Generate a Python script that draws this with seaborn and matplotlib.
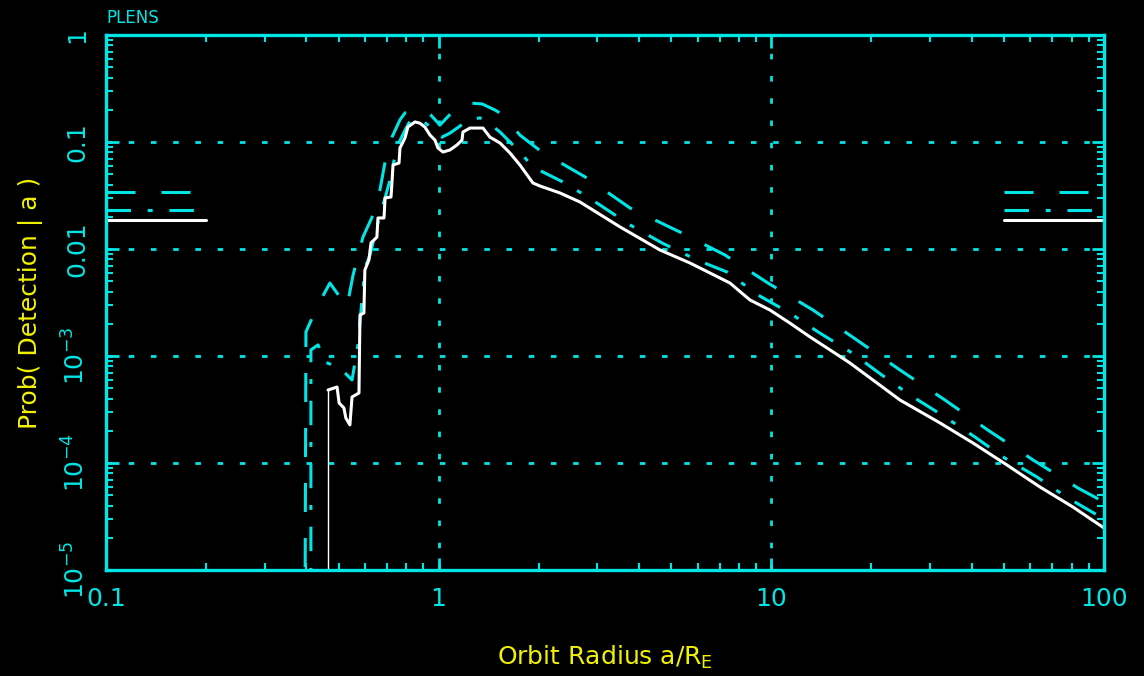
"""
PLENS - detection probability vs orbit radius (PGPLOT-style look)
"""
import numpy as np
import pandas as pd
import matplotlib
matplotlib.use("Agg")
import matplotlib.pyplot as plt
import seaborn as sns
from matplotlib.ticker import LogLocator, NullFormatter

CYAN = "#00e6e6"
YELLOW = "#f2f200"
WHITE = "#ffffff"

# --- values ---
# white solid curve
white_x = [0.465, 0.495, 0.502, 0.519, 0.526, 0.541, 0.549, 0.576, 0.580, 0.596,
           0.600, 0.617, 0.626, 0.652, 0.657, 0.685, 0.690, 0.719, 0.724, 0.729,
           0.760, 0.765, 0.792, 0.808, 0.849, 0.878, 0.909, 0.942, 0.975, 0.995,
           1.030, 1.081, 1.135, 1.175, 1.183, 1.242, 1.359, 1.426, 1.529, 1.638,
           1.755, 1.920, 2.016, 2.315, 2.659, 3.507, 4.625, 5.693, 6.537, 7.509,
           8.623, 9.903, 11.37, 13.06, 15.01, 17.23, 24.36, 32.12, 40.36, 51.08,
           64.18, 80.63, 100.0]
white_y = [4.81e-4, 5.13e-4, 3.64e-4, 3.27e-4, 2.63e-4, 2.27e-4, 4.14e-4, 4.51e-4, 2.42e-3, 2.52e-3,
           6.36e-3, 7.89e-3, 1.14e-2, 1.29e-2, 1.95e-2, 1.95e-2, 3.00e-2, 3.06e-2, 4.23e-2, 6.10e-2,
           6.36e-2, 8.79e-2, 0.109, 0.138, 0.154, 0.150, 0.138, 0.116, 0.104, 0.0879,
           0.0806, 0.0842, 0.0938, 0.104, 0.124, 0.135, 0.135, 0.111, 0.0979, 0.0789,
           0.0610, 0.0414, 0.0388, 0.0334, 0.0275, 0.0161, 9.79e-3, 7.40e-3, 5.97e-3, 4.81e-3,
           3.34e-3, 2.69e-3, 2.03e-3, 1.51e-3, 1.14e-3, 8.60e-4, 3.88e-4, 2.37e-4, 1.54e-4, 9.58e-5,
           5.97e-5, 3.88e-5, 2.47e-5]

# cyan dash-dot curve
dashdot_x = [0.413, 0.413, 0.434, 0.455, 0.505, 0.549, 0.572, 0.588, 0.600, 0.622,
             0.643, 0.666, 0.690, 0.714, 0.729, 0.754, 0.792, 0.820, 0.878, 0.929,
             0.975, 1.023, 1.081, 1.159, 1.225, 1.331, 1.426, 1.529, 1.638, 1.755,
             1.920, 2.430, 3.053, 3.758, 4.690, 5.977, 7.354, 9.112, 11.37, 13.81,
             17.47, 21.49, 26.10, 32.57, 40.93, 49.68, 62.86, 77.89, 100.0]
dashdot_y = [1e-6, 1.14e-3, 1.27e-3, 8.79e-4, 7.73e-4, 5.97e-4, 1.27e-3, 3.34e-3, 6.64e-3, 8.79e-3,
             1.35e-2, 2.08e-2, 3.00e-2, 4.42e-2, 6.10e-2, 0.0938, 0.129, 0.157, 0.164, 0.144,
             0.124, 0.111, 0.121, 0.141, 0.161, 0.168, 0.147, 0.124, 0.100, 0.0806,
             0.0584, 0.0405, 0.0258, 0.0168, 0.0114, 7.89e-3, 6.10e-3, 3.72e-3, 2.52e-3, 1.68e-3,
             1.07e-3, 6.64e-4, 4.32e-4, 2.81e-4, 1.75e-4, 1.14e-4, 7.40e-5, 4.71e-5, 3.00e-5]

# cyan long-dash curve
dashed_x = [0.396, 0.399, 0.434, 0.471, 0.530, 0.553, 0.592, 0.635, 0.666, 0.690,
            0.724, 0.765, 0.792, 0.849, 0.929, 1.009, 1.135, 1.242, 1.350, 1.477,
            1.561, 1.755, 2.044, 2.791, 3.758, 5.313, 7.253, 9.767, 13.34, 18.08,
            24.36, 33.25, 44.79, 61.14, 83.49, 100.0]
dashed_y = [1e-6, 1.68e-3, 3.00e-3, 4.81e-3, 2.87e-3, 5.71e-3, 1.29e-2, 2.08e-2, 3.56e-2, 6.50e-2,
            0.111, 0.161, 0.187, 0.199, 0.191, 0.144, 0.212, 0.231, 0.227, 0.199,
            0.179, 0.116, 0.0806, 0.0461, 0.0242, 0.0144, 8.79e-3, 4.81e-3, 2.69e-3, 1.41e-3,
            7.40e-4, 3.88e-4, 2.03e-4, 1.07e-4, 5.84e-5, 4.32e-5]

# flat levels drawn at both ends
plateau_left = [0.1, 0.2]
plateau_right = [50.0, 100.0]
level_white = 0.0185
level_dashdot = 0.0231
level_dashed = 0.0341

xticks = [0.1, 1, 10, 100]
xtick_labels = ["0.1", "1", "10", "100"]
yticks = [1e-5, 1e-4, 1e-3, 1e-2, 1e-1, 1]
ytick_labels = ["$10^{-5}$", "$10^{-4}$", "$10^{-3}$", "0.01", "0.1", "1"]

# --- style ---
sns.set_style("ticks", rc={
    "axes.facecolor": "black",
    "figure.facecolor": "black",
    "axes.edgecolor": CYAN,
    "xtick.color": CYAN,
    "ytick.color": CYAN,
    "text.color": CYAN,
})
plt.rcParams["font.family"] = ["DejaVu Sans"]

DASHED = (0, (9.5, 8.5))
DASHDOT = (0, (8.0, 5.5, 1.6, 5.5))

fig = plt.figure(figsize=(11.44, 6.76), dpi=100)
ax = fig.add_axes([106 / 1144, 106 / 676, 998 / 1144, 535 / 676])
ax.set_xscale("log")
ax.set_yscale("log")
ax.set_xlim(0.1, 100)
ax.set_ylim(1e-5, 1)

ax.grid(True, which="major", color=CYAN, linestyle=(0, (2, 6)), linewidth=2)

curves = [
    (dashed_x, dashed_y, CYAN, DASHED, level_dashed),
    (dashdot_x, dashdot_y, CYAN, DASHDOT, level_dashdot),
    (white_x, white_y, WHITE, "-", level_white),
]
for cx, cy, col, ls, lev in curves:
    df = pd.DataFrame({"a": cx, "p": cy})
    sns.lineplot(data=df, x="a", y="p", ax=ax, color=col, linestyle=ls,
                 linewidth=2.2, sort=False, estimator=None)
    for span in (plateau_left, plateau_right):
        sns.lineplot(x=span, y=[lev, lev], ax=ax, color=col, linestyle=ls,
                     linewidth=2.2, sort=False, estimator=None)

# thin drop line under the start of the white curve
ax.vlines(white_x[0], ax.get_ylim()[0], white_y[0], color=WHITE, linewidth=1)

ax.set_xticks(xticks, xtick_labels)
ax.set_yticks(yticks, ytick_labels)
ax.xaxis.set_minor_locator(LogLocator(base=10, subs=np.arange(2, 10), numticks=20))
ax.yaxis.set_minor_locator(LogLocator(base=10, subs=np.arange(2, 10), numticks=20))
ax.xaxis.set_minor_formatter(NullFormatter())
ax.yaxis.set_minor_formatter(NullFormatter())
ax.set_xlim(0.1, 100)
ax.set_ylim(1e-5, 1)

ax.tick_params(which="both", direction="in", top=True, right=True, colors=CYAN)
ax.tick_params(which="major", length=9, width=2, labelsize=18, pad=12)
ax.tick_params(which="minor", length=5, width=1.5)
ax.tick_params(axis="y", labelrotation=90)
for lab in ax.get_yticklabels():
    lab.set_va("center")

for s in ax.spines.values():
    s.set_linewidth(2.4)
    s.set_color(CYAN)

ax.set_xlabel("Orbit Radius a/R$_{\\rm E}$", color=YELLOW, fontsize=18, labelpad=24)
ax.set_ylabel("Prob( Detection | a )", color=YELLOW, fontsize=18, labelpad=14)
ax.text(0.0, 1.032, "PLENS", transform=ax.transAxes, color=CYAN,
        fontsize=12, ha="left", va="center")

fig.savefig("out.png", dpi=100, facecolor="black")
